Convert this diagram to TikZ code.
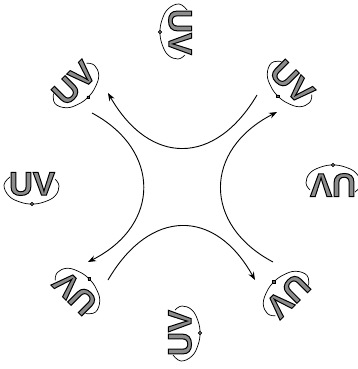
\documentclass[tikz,border=0pt]{standalone}
\usepackage{fontspec}
\usetikzlibrary{arrows.meta}
\newfontfamily\uvfont{Liberation Sans}
\newcommand\outlined[1]{\special{pdf:literal direct 0 G 1 w 2 Tr}#1\special{pdf:literal direct 0 Tr}}
\tikzset{
  uvtext/.style={inner sep=0pt, text=black!45, font=\uvfont\bfseries\fontsize{33}{33}\selectfont},
  uvloop/.style={line width=0.7pt, black},
  uvdot/.style={fill=black!60, draw=black, line width=0.5pt},
  flow/.style={line width=0.9pt, -{Stealth[length=8pt,width=6pt]}}
}
\newcommand\uvglyph[4]{%
  \node[uvtext, rotate=#4] (#1) at (#2,#3) {\outlined{UV}};
  \begin{scope}[shift={(#2,#3)}, rotate=#4]
    \draw[uvloop] plot[smooth, tension=0.7] coordinates {(-22,-7) (-28,1) (-23,12) (-12,18) (0,20) (12,18) (23,12) (27,2) (23,-5)};
    \filldraw[uvdot] (0,20) circle (1.8pt);
  \end{scope}}
\begin{document}
\begin{tikzpicture}[x=1pt,y=-1pt]
\useasboundingbox (0,0) rectangle (358,369);
\uvglyph{gl}{32}{184}{0}
\uvglyph{gtl}{74}{83}{45}
\uvglyph{gt}{180}{32}{-90}
\uvglyph{gtr}{292}{82}{-45}
\uvglyph{gr}{333}{185}{180}
\uvglyph{gbr}{288}{296}{-135}
\uvglyph{gb}{180}{333}{90}
\uvglyph{gbl}{75}{293}{135}
\coordinate (ta) at (257,95);
\coordinate (tb) at (108,93);
\coordinate (la) at (92,113);
\coordinate (lb) at (88,262);
\coordinate (ra) at (273,262);
\coordinate (rb) at (277,112);
\coordinate (ba) at (108,280);
\coordinate (bb) at (255,280);
\draw[flow] (ta) .. controls (215,166) and (150,166) .. (tb);
\draw[flow] (la) .. controls (161,150) and (161,225) .. (lb);
\draw[flow] (ra) .. controls (203,225) and (203,150) .. (rb);
\draw[flow] (ba) .. controls (150,208) and (215,208) .. (bb);
\end{tikzpicture}
\end{document}
